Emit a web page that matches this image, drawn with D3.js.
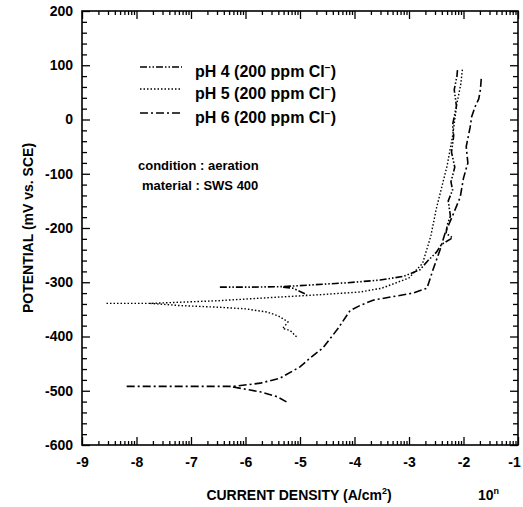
<!DOCTYPE html>
<html><head><meta charset="utf-8">
<script src="https://cdn.jsdelivr.net/npm/d3@7/dist/d3.min.js"></script>
<style>
body{margin:0;background:#fff;}
text{font-family:"Liberation Sans",Arial,sans-serif;fill:#000;}
</style></head>
<body>
<svg id="chart" width="523" height="507"></svg>
<script>
// ---- data: [log10 current density, potential mV] ----
const xTicks = [-9,-8,-7,-6,-5,-4,-3,-2,-1];
const yTicks = [-600,-500,-400,-300,-200,-100,0,100,200];
const seriesNames = ["pH 4 (200 ppm Cl", "pH 5 (200 ppm Cl", "pH 6 (200 ppm Cl"];

const ph4Anodic = [[-6.47,-309],[-5.9,-309],[-5.3,-308],[-4.8,-305],[-4.14,-301],[-3.53,-296],[-3.1,-289],[-2.8,-277],[-2.65,-260],[-2.5,-245],[-2.4,-230],[-2.2,-218],[-2.32,-210],[-2.3,-195],[-2.24,-178],[-2.28,-150],[-2.2,-130],[-2.23,-115],[-2.16,-88],[-2.22,-60],[-2.18,-30],[-2.2,-10],[-2.13,25],[-2.17,55],[-2.12,80],[-2.11,92]];
const ph4Cathodic = [[-5.31,-309],[-5.13,-311],[-5.0,-317],[-4.87,-323]];

const ph5Anodic = [[-8.55,-339],[-7.75,-339],[-6.5,-334],[-5.5,-328],[-4.8,-324],[-3.9,-318],[-3.5,-311],[-3.0,-292],[-2.75,-265],[-2.6,-215],[-2.5,-165],[-2.4,-125],[-2.3,-85],[-2.2,-30],[-2.12,30],[-2.05,65],[-2.02,92]];
const ph5Cathodic = [[-7.75,-339],[-7.2,-343],[-6.5,-346],[-6.0,-349],[-5.6,-355],[-5.4,-362],[-5.22,-373],[-5.28,-381],[-5.32,-385],[-5.18,-389],[-5.06,-401]];

const ph6Anodic = [[-8.18,-492],[-7.0,-492],[-6.23,-492],[-5.73,-486],[-5.37,-477],[-5.0,-456],[-4.82,-440],[-4.58,-421],[-4.3,-385],[-4.08,-352],[-3.9,-343],[-3.66,-333],[-2.93,-320],[-2.67,-311],[-2.56,-277],[-2.43,-240],[-2.34,-210],[-2.19,-175],[-2.06,-143],[-2.0,-108],[-1.92,-80],[-1.95,-50],[-1.88,-15],[-1.85,5],[-1.79,23],[-1.72,38],[-1.69,55],[-1.67,80]];
const ph6Cathodic = [[-6.23,-493],[-5.73,-502],[-5.42,-511],[-5.24,-521]];

const dashes = ["7,2,1.5,2,1.5,2", "1.5,2", "8,3,2,3"];

// ---- layout ----
const L = 82, R = 518, T = 11, B = 445;
const svg = d3.select("#chart");
const x = d3.scaleLinear().domain([-9,-1]).range([L,R]);
const y = d3.scaleLinear().domain([-600,200]).range([B,T]);

// minor ticks
const xMinor = [];
xTicks.slice(0,-1).forEach(d => { for (let k=2;k<=9;k++) xMinor.push(d+Math.log10(k)); });
const yMinor = d3.range(-600,201,20).filter(v => v % 100 !== 0);

function styleAxis(g){ g.select(".domain").remove(); g.selectAll("line").attr("stroke","#000").attr("stroke-width",1.3); }

// bottom
svg.append("g").attr("transform",`translate(0,${B})`)
  .call(d3.axisBottom(x).tickValues(xTicks).tickSize(-8).tickPadding(12).tickFormat(d=>d))
  .call(styleAxis)
  .call(g=>g.selectAll("text").attr("font-size",14).attr("font-weight","bold")
    .attr("dx",d=>d===-1?-4:0));
svg.append("g").attr("transform",`translate(0,${B})`)
  .call(d3.axisBottom(x).tickValues(xMinor).tickSize(-4).tickFormat(""))
  .call(styleAxis);
// top
svg.append("g").attr("transform",`translate(0,${T})`)
  .call(d3.axisTop(x).tickValues(xTicks).tickSize(-8).tickFormat(""))
  .call(styleAxis);
svg.append("g").attr("transform",`translate(0,${T})`)
  .call(d3.axisTop(x).tickValues(xMinor).tickSize(-4).tickFormat(""))
  .call(styleAxis);
// left
svg.append("g").attr("transform",`translate(${L},0)`)
  .call(d3.axisLeft(y).tickValues(yTicks).tickSize(-8).tickPadding(9).tickFormat(d=>d))
  .call(styleAxis)
  .call(g=>g.selectAll("text").attr("font-size",14).attr("font-weight","bold"));
svg.append("g").attr("transform",`translate(${L},0)`)
  .call(d3.axisLeft(y).tickValues(yMinor).tickSize(-5).tickFormat(""))
  .call(styleAxis);
// right
svg.append("g").attr("transform",`translate(${R},0)`)
  .call(d3.axisRight(y).tickValues(yTicks).tickSize(-8).tickFormat(""))
  .call(styleAxis);
svg.append("g").attr("transform",`translate(${R},0)`)
  .call(d3.axisRight(y).tickValues(yMinor).tickSize(-5).tickFormat(""))
  .call(styleAxis);

// frame
svg.append("rect").attr("x",L).attr("y",T).attr("width",R-L).attr("height",B-T)
  .attr("fill","none").attr("stroke","#000").attr("stroke-width",1.6);

// curves
const line = d3.line().x(d=>x(d[0])).y(d=>y(d[1]));
const curves = [[ph4Anodic,0],[ph4Cathodic,0],[ph5Anodic,1],[ph5Cathodic,1],[ph6Anodic,2],[ph6Cathodic,2]];
svg.append("g").selectAll("path").data(curves).join("path")
  .attr("d",d=>line(d[0])).attr("fill","none").attr("stroke","#000")
  .attr("stroke-width",d=>d[1]===1?1.4:1.6).attr("stroke-dasharray",d=>dashes[d[1]]);

// legend
const legY = [67, 89, 113];
const leg = svg.append("g");
seriesNames.forEach((n,i)=>{
  leg.append("line").attr("x1",140).attr("x2",182).attr("y1",legY[i]).attr("y2",legY[i])
    .attr("stroke","#000").attr("stroke-width",i===1?1.4:1.6).attr("stroke-dasharray",dashes[i]);
  const t = leg.append("text").attr("x",195).attr("y",legY[i]+10).attr("font-size",16).attr("font-weight","bold");
  t.append("tspan").text(n);
  t.append("tspan").attr("font-size",10).attr("dy",-6).text("−");
  t.append("tspan").attr("dy",6).text(")");
});

// notes
svg.append("text").attr("x",138).attr("y",170).attr("font-size",13).attr("font-weight","bold").text("condition : aeration");
svg.append("text").attr("x",142).attr("y",190).attr("font-size",13).attr("font-weight","bold").text("material : SWS 400");

// axis titles
const xt = svg.append("text").attr("x",299).attr("y",500).attr("text-anchor","middle").attr("font-size",14).attr("font-weight","bold");
xt.append("tspan").text("CURRENT DENSITY (A/cm");
xt.append("tspan").attr("font-size",9).attr("dy",-6).text("2");
xt.append("tspan").attr("dy",6).text(")");
const tn = svg.append("text").attr("x",478).attr("y",500).attr("font-size",14).attr("font-weight","bold");
tn.append("tspan").text("10");
tn.append("tspan").attr("font-size",9).attr("dy",-6).text("n");

svg.append("text").attr("transform",`translate(33,${(T+B)/2}) rotate(-90)`).attr("text-anchor","middle")
  .attr("font-size",14).attr("font-weight","bold").text("POTENTIAL (mV vs. SCE)");
</script>
</body></html>
